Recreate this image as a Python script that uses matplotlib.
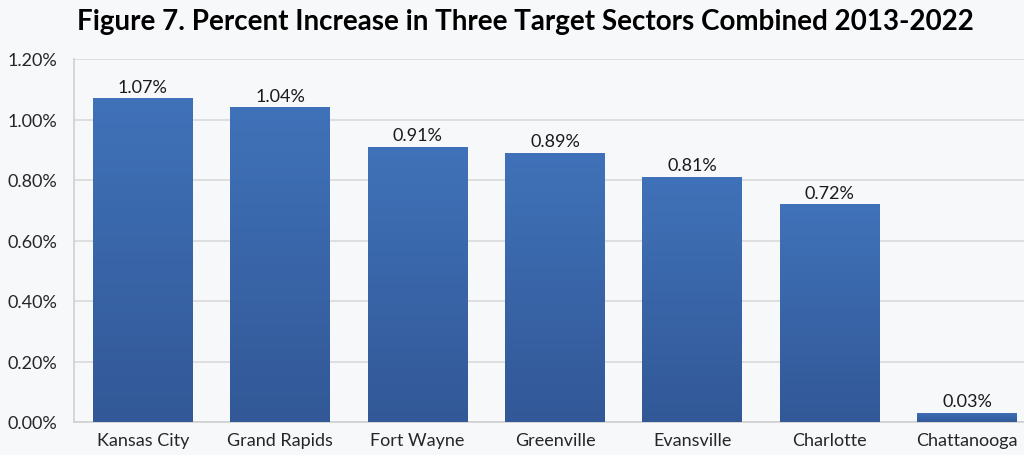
import numpy as np
import matplotlib.pyplot as plt
from matplotlib.colors import LinearSegmentedColormap
from matplotlib.ticker import FuncFormatter

cities = ['Kansas City', 'Grand Rapids', 'Fort Wayne', 'Greenville',
          'Evansville', 'Charlotte', 'Chattanooga']
pct_increase = [1.07, 1.04, 0.91, 0.89, 0.81, 0.72, 0.03]
y_ticks = [0.0, 0.2, 0.4, 0.6, 0.8, 1.0, 1.2]

plt.rcParams['font.family'] = ['Lato', 'DejaVu Sans']

fig = plt.figure(figsize=(10.24, 4.56), dpi=100)
fig.patch.set_facecolor('#f7f8fa')
ax = fig.add_axes([74 / 1024, 33 / 456, 962 / 1024, 363 / 456])
ax.set_facecolor('none')

x = np.arange(len(cities))
bars = ax.bar(x, pct_increase, width=0.727, color='#3a66aa', zorder=2)

# vertical gradient on every bar, lighter at the top
cmap = LinearSegmentedColormap.from_list('barfade', ['#325897', '#4072b9'])
grad = np.linspace(0, 1, 256).reshape(-1, 1)
for b in bars:
    x0, w, h = b.get_x(), b.get_width(), b.get_height()
    im = ax.imshow(grad, cmap=cmap, origin='lower', aspect='auto',
                   extent=[x0, x0 + w, 0, h], zorder=3)
    im.set_clip_path(b)
    ax.text(x0 + w / 2, h + 0.012, f'{h:.2f}%', ha='center', va='bottom',
            fontsize=13, color='#1a1a1a', zorder=4)

ax.set_xlim(-0.5, len(cities) - 0.5)
ax.set_ylim(0, 1.2)
ax.set_yticks(y_ticks)
ax.yaxis.set_major_formatter(FuncFormatter(lambda v, p: f'{v:.2f}%'))
ax.set_xticks(x)
ax.set_xticklabels(cities)
ax.tick_params(axis='both', length=0, labelsize=13, colors='#262626')
ax.tick_params(axis='x', pad=7)
ax.tick_params(axis='y', pad=12)
ax.grid(axis='y', color='#d9d9d9', linewidth=1.2, zorder=0)
for s in ['top', 'right']:
    ax.spines[s].set_visible(False)
for s in ['left', 'bottom']:
    ax.spines[s].set_color('#d0d0d0')
    ax.spines[s].set_linewidth(1.2)

fig.text(0.513, 0.952, 'Figure 7. Percent Increase in Three Target Sectors Combined 2013-2022',
         ha='center', va='center', fontsize=20, fontweight='bold', color='#000000')

fig.savefig('out.png', dpi=100, facecolor=fig.get_facecolor())
